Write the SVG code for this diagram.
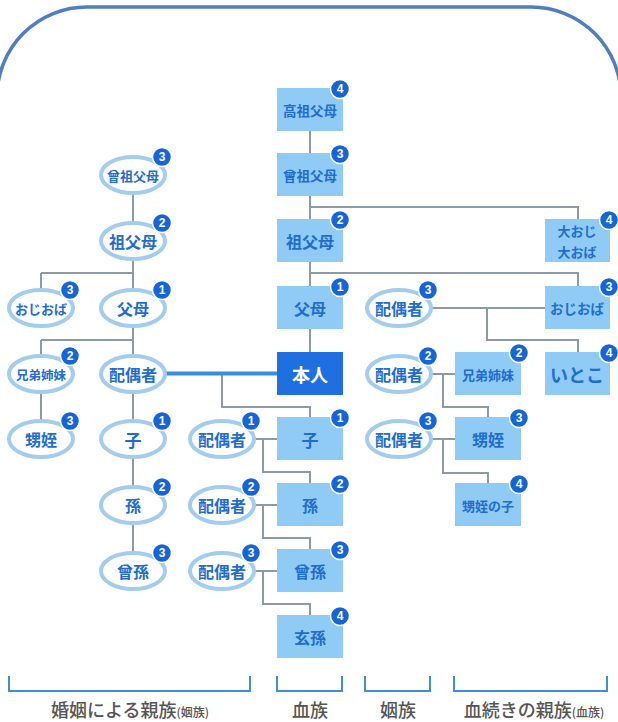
<svg xmlns="http://www.w3.org/2000/svg" width="618" height="722" viewBox="0 0 618 722">
<style>
.box{fill:#8fcbf5}
.dark{fill:#1f6fe0}
.ell{fill:#fff;stroke:#a3cdee;stroke-width:4}
.t{font-family:"Noto Sans CJK JP","Noto Sans",sans-serif;font-weight:700;fill:#1f6dd0;text-anchor:middle;dominant-baseline:central}
.tw{font-family:"Noto Sans CJK JP","Noto Sans",sans-serif;font-weight:700;fill:#fff;text-anchor:middle;dominant-baseline:central}
.bc{fill:#1565d8;stroke:#fff;stroke-width:1.5}
.bt{font-family:"Liberation Sans",Arial,sans-serif;font-weight:700;font-size:12px;fill:#fff;text-anchor:middle;dominant-baseline:central}
.ln{fill:none;stroke:#8c9aa7;stroke-width:2}
.thick{fill:none;stroke:#3a8ee0;stroke-width:4}
.br{fill:none;stroke:#3f8fd2;stroke-width:2}
.lab{font-family:"Noto Sans CJK JP","Noto Sans",sans-serif;font-weight:500;font-size:18px;fill:#555;text-anchor:middle}
.small{font-size:12px}
</style>
<defs>
<g id="b1"><circle class="bc" r="9.5"/><text class="bt">1</text></g>
<g id="b2"><circle class="bc" r="9.5"/><text class="bt">2</text></g>
<g id="b3"><circle class="bc" r="9.5"/><text class="bt">3</text></g>
<g id="b4"><circle class="bc" r="9.5"/><text class="bt">4</text></g>
</defs>
<rect x="-3" y="7" width="624" height="800" rx="90" ry="90" fill="none" stroke="#4f7fc0" stroke-width="3.5"/>

<g id="connectors">
<path class="ln" d="M310 109 V373"/>
<path class="ln" d="M310 207 H578 V219"/>
<path class="ln" d="M310 273 H578 V286"/>
<path class="ln" d="M431 308 H545 M487 308 V340 H578 V352"/>
<path class="ln" d="M431 374 H455 M443 374 V407 H488 V417"/>
<path class="ln" d="M431 439 H455 M443 439 V473 H488 V483"/>
<path class="ln" d="M222 374 V407 H310 V417"/>
<path class="ln" d="M254 439 H277 M263 439 V472 H310 V483"/>
<path class="ln" d="M254 505 H277 M263 505 V538 H310 V549"/>
<path class="ln" d="M254 571 H277 M263 571 V604 H310 V615"/>
<path class="ln" d="M133 175 V571"/>
<path class="ln" d="M41 273 H133 M41 273 V307"/>
<path class="ln" d="M41 340 H133 M41 340 V439"/>
<path class="thick" d="M165 373.5 H277"/>
</g>

<!-- center column -->
<g id="n-kousofubo"><rect class="box" x="277" y="88" width="66" height="43"/><text class="t" x="310" y="110" font-size="13.5">高祖父母</text><use href="#b4" x="340" y="89"/></g>
<g id="n-sousofubo"><rect class="box" x="277" y="153" width="66" height="43"/><text class="t" x="310" y="175" font-size="13.5">曾祖父母</text><use href="#b3" x="340" y="154"/></g>
<g id="n-sofubo"><rect class="box" x="277" y="219" width="66" height="43"/><text class="t" x="310" y="241" font-size="16">祖父母</text><use href="#b2" x="340" y="220"/></g>
<g id="n-fubo"><rect class="box" x="277" y="286" width="66" height="43"/><text class="t" x="310" y="308" font-size="16">父母</text><use href="#b1" x="340" y="287"/></g>
<g id="n-honnin"><rect class="dark" x="277" y="352" width="66" height="43"/><text class="tw" x="310" y="374" font-size="18">本人</text></g>
<g id="n-ko"><rect class="box" x="277" y="417" width="66" height="43"/><text class="t" x="310" y="439" font-size="17">子</text><use href="#b1" x="340" y="418"/></g>
<g id="n-mago"><rect class="box" x="277" y="483" width="66" height="43"/><text class="t" x="310" y="505" font-size="16">孫</text><use href="#b2" x="340" y="484"/></g>
<g id="n-himago"><rect class="box" x="277" y="549" width="66" height="43"/><text class="t" x="310" y="571" font-size="16">曾孫</text><use href="#b3" x="340" y="550"/></g>
<g id="n-yashago"><rect class="box" x="277" y="615" width="66" height="43"/><text class="t" x="310" y="637" font-size="16">玄孫</text><use href="#b4" x="340" y="616"/></g>

<!-- right column -->
<g id="n-ooji"><rect class="box" x="545" y="219" width="65" height="43"/><text class="t" x="577" y="230" font-size="13">大おじ</text><text class="t" x="577" y="251" font-size="13">大おば</text><use href="#b4" x="609" y="220"/></g>
<g id="n-oji"><rect class="box" x="545" y="286" width="65" height="43"/><text class="t" x="577" y="308" font-size="13.5">おじおば</text><use href="#b3" x="609" y="287"/></g>
<g id="n-itoko"><rect class="box" x="545" y="352" width="65" height="43"/><text class="t" x="577" y="374" font-size="18">いとこ</text><use href="#b4" x="609" y="353"/></g>
<g id="n-kyoudai"><rect class="box" x="455" y="352" width="66" height="43"/><text class="t" x="488" y="374" font-size="13">兄弟姉妹</text><use href="#b2" x="519" y="353"/></g>
<g id="n-oimei"><rect class="box" x="455" y="417" width="66" height="43"/><text class="t" x="488" y="439" font-size="16">甥姪</text><use href="#b3" x="519" y="418"/></g>
<g id="n-oimeinoko"><rect class="box" x="455" y="483" width="66" height="43"/><text class="t" x="488" y="505" font-size="13">甥姪の子</text><use href="#b4" x="519" y="484"/></g>

<!-- right spouses -->
<g id="n-hs-r3"><ellipse class="ell" cx="399" cy="308" rx="32" ry="18"/><text class="t" x="399" y="308" font-size="16">配偶者</text><use href="#b3" x="428" y="290"/></g>
<g id="n-hs-r2"><ellipse class="ell" cx="399" cy="374" rx="32" ry="18"/><text class="t" x="399" y="374" font-size="16">配偶者</text><use href="#b2" x="428" y="356"/></g>
<g id="n-hs-r3b"><ellipse class="ell" cx="399" cy="439" rx="32" ry="18"/><text class="t" x="399" y="439" font-size="16">配偶者</text><use href="#b3" x="428" y="421"/></g>

<!-- middle spouses -->
<g id="n-hs-m1"><ellipse class="ell" cx="222" cy="439" rx="32" ry="18"/><text class="t" x="222" y="439" font-size="16">配偶者</text><use href="#b1" x="251" y="421"/></g>
<g id="n-hs-m2"><ellipse class="ell" cx="222" cy="505" rx="32" ry="18"/><text class="t" x="222" y="505" font-size="16">配偶者</text><use href="#b2" x="251" y="487"/></g>
<g id="n-hs-m3"><ellipse class="ell" cx="222" cy="571" rx="32" ry="18"/><text class="t" x="222" y="571" font-size="16">配偶者</text><use href="#b3" x="251" y="553"/></g>

<!-- left column -->
<g id="n-l-sousofubo"><ellipse class="ell" cx="133" cy="175" rx="32" ry="18"/><text class="t" x="133" y="175" font-size="13">曾祖父母</text><use href="#b3" x="162" y="157"/></g>
<g id="n-l-sofubo"><ellipse class="ell" cx="133" cy="241" rx="32" ry="18"/><text class="t" x="133" y="241" font-size="16">祖父母</text><use href="#b2" x="162" y="223"/></g>
<g id="n-l-fubo"><ellipse class="ell" cx="133" cy="308" rx="32" ry="18"/><text class="t" x="133" y="308" font-size="16">父母</text><use href="#b1" x="162" y="290"/></g>
<g id="n-l-haigu"><ellipse class="ell" cx="133" cy="374" rx="32" ry="18"/><text class="t" x="133" y="374" font-size="16">配偶者</text></g>
<g id="n-l-ko"><ellipse class="ell" cx="133" cy="439" rx="32" ry="18"/><text class="t" x="133" y="439" font-size="17">子</text><use href="#b1" x="162" y="421"/></g>
<g id="n-l-mago"><ellipse class="ell" cx="133" cy="505" rx="32" ry="18"/><text class="t" x="133" y="505" font-size="16">孫</text><use href="#b2" x="162" y="487"/></g>
<g id="n-l-himago"><ellipse class="ell" cx="133" cy="571" rx="32" ry="18"/><text class="t" x="133" y="571" font-size="16">曾孫</text><use href="#b3" x="162" y="553"/></g>
<g id="n-l-oji"><ellipse class="ell" cx="41" cy="308" rx="32" ry="18"/><text class="t" x="41" y="308" font-size="13">おじおば</text><use href="#b3" x="70" y="290"/></g>
<g id="n-l-kyoudai"><ellipse class="ell" cx="41" cy="374" rx="32" ry="18"/><text class="t" x="41" y="374" font-size="12.5">兄弟姉妹</text><use href="#b2" x="70" y="356"/></g>
<g id="n-l-oimei"><ellipse class="ell" cx="41" cy="439" rx="32" ry="18"/><text class="t" x="41" y="439" font-size="16">甥姪</text><use href="#b3" x="70" y="421"/></g>

<!-- brackets -->
<g id="brackets">
<path class="br" d="M9 676 V691 H250 V676"/>
<path class="br" d="M277 676 V691 H342 V676"/>
<path class="br" d="M365 676 V691 H430 V676"/>
<path class="br" d="M454 676 V691 H607 V676"/>
<text class="lab" x="130" y="717">婚姻による親族<tspan class="small">(姻族)</tspan></text>
<text class="lab" x="310" y="717">血族</text>
<text class="lab" x="398" y="717">姻族</text>
<text class="lab" x="534" y="717">血続きの親族<tspan class="small">(血族)</tspan></text>
</g>
</svg>
